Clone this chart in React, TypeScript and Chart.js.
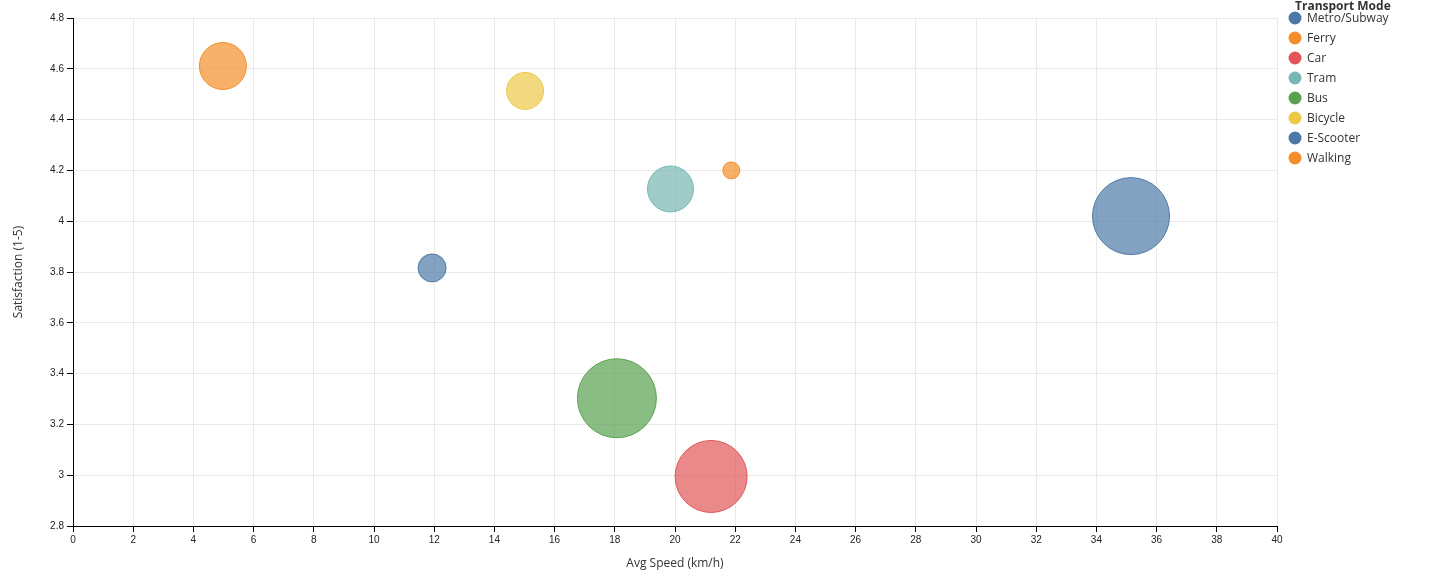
import React, { useEffect, useRef } from "react";
import { Chart, registerables } from "chart.js";

Chart.register(...registerables);

const modes = ["Metro/Subway", "Ferry", "Car", "Tram", "Bus", "Bicycle", "E-Scooter", "Walking"];
const avgSpeed = [35.15, 21.87, 21.2, 19.85, 18.07, 15.02, 11.93, 4.98];
const satisfaction = [4.02, 4.2, 2.995, 4.127, 3.303, 4.513, 3.816, 4.611];
const bubbleRadius = [38.5, 8.5, 36, 23, 39.5, 18.5, 14, 23.5];
const modeColors = ["#4e79a7", "#f28e2b", "#e15759", "#76b7b2", "#59a14f", "#edc948", "#4e79a7", "#f28e2b"];
const xTicks = [0, 2, 4, 6, 8, 10, 12, 14, 16, 18, 20, 22, 24, 26, 28, 30, 32, 34, 36, 38, 40];
const yTicks = [2.8, 3, 3.2, 3.4, 3.6, 3.8, 4, 4.2, 4.4, 4.6, 4.8];
const legendTitle = "Transport Mode";
const xTitle = "Avg Speed (km/h)";
const yTitle = "Satisfaction (1-5)";

function hexToRgba(hex: string, a: number) {
  const n = parseInt(hex.slice(1), 16);
  return `rgba(${(n >> 16) & 255}, ${(n >> 8) & 255}, ${n & 255}, ${a})`;
}

const legendPlugin = {
  id: "sideLegend",
  afterDraw(chart: any) {
    const ctx = chart.ctx;
    const x0 = chart.chartArea.right + 18;
    ctx.save();
    ctx.fillStyle = "#333";
    ctx.font = "bold 12px 'Open Sans', 'Noto Sans', sans-serif";
    ctx.textAlign = "left";
    ctx.textBaseline = "alphabetic";
    ctx.fillText(legendTitle, x0, 10);
    ctx.font = "12px 'Open Sans', 'Noto Sans', sans-serif";
    ctx.textBaseline = "middle";
    chart.data.datasets.forEach((ds: any, i: number) => {
      const cy = 18 + i * 20;
      ctx.beginPath();
      ctx.arc(x0, cy, 6.5, 0, Math.PI * 2);
      ctx.fillStyle = ds.borderColor;
      ctx.fill();
      ctx.fillStyle = "#333";
      ctx.fillText(ds.label, x0 + 12, cy + 0.5);
    });
    ctx.restore();
  },
};

export default function App() {
  const ref = useRef<HTMLCanvasElement | null>(null);

  useEffect(() => {
    document.body.style.margin = "0";
    if (!ref.current) return;
    const tickFont = { family: "'Liberation Sans', Arial, sans-serif", size: 10 };
    const titleFont = { family: "'Open Sans', 'Noto Sans', sans-serif", size: 12 };
    const chart = new Chart(ref.current, {
      type: "bubble",
      data: {
        datasets: modes.map((m, i) => ({
          label: m,
          data: [{ x: avgSpeed[i], y: satisfaction[i], r: bubbleRadius[i] }],
          backgroundColor: hexToRgba(modeColors[i], 0.7),
          borderColor: modeColors[i],
          borderWidth: 1,
          hoverRadius: 0,
        })),
      },
      options: {
        animation: false,
        responsive: true,
        maintainAspectRatio: false,
        layout: { autoPadding: false, padding: { top: 18, right: 165, left: 0, bottom: 0 } },
        plugins: { legend: { display: false }, tooltip: { enabled: false } },
        scales: {
          x: {
            type: "linear",
            min: 0,
            max: 40,
            afterFit: (s: any) => { s.height = 59; },
            afterBuildTicks: (s: any) => { s.ticks = xTicks.map((v) => ({ value: v })); },
            grid: { color: "#e9e9e9", tickColor: "#000", tickLength: 6, drawTicks: true },
            border: { color: "#000", width: 1 },
            ticks: { font: tickFont, color: "#222", padding: 2, maxRotation: 0, autoSkip: false, callback: (v: any) => String(v) },
            title: { display: true, text: xTitle, font: titleFont, color: "#333", padding: { top: 4, bottom: 14 } },
          },
          y: {
            type: "linear",
            min: 2.8,
            max: 4.8,
            afterFit: (s: any) => { s.width = 73; },
            afterBuildTicks: (s: any) => { s.ticks = yTicks.map((v) => ({ value: v })); },
            grid: { color: "#e9e9e9", tickColor: "#000", tickLength: 6, drawTicks: true },
            border: { color: "#000", width: 1 },
            ticks: { font: tickFont, color: "#222", padding: 3, autoSkip: false, callback: (v: any) => String(Number(Number(v).toFixed(1))) },
            title: { display: true, text: yTitle, font: titleFont, color: "#333", padding: { top: 11, bottom: 4 } },
          },
        },
      },
      plugins: [legendPlugin],
    });
    return () => chart.destroy();
  }, []);

  return (
    <div style={{ position: "fixed", left: 0, top: 0, width: 1442, height: 585, background: "#fff" }}>
      <canvas ref={ref} />
    </div>
  );
}
